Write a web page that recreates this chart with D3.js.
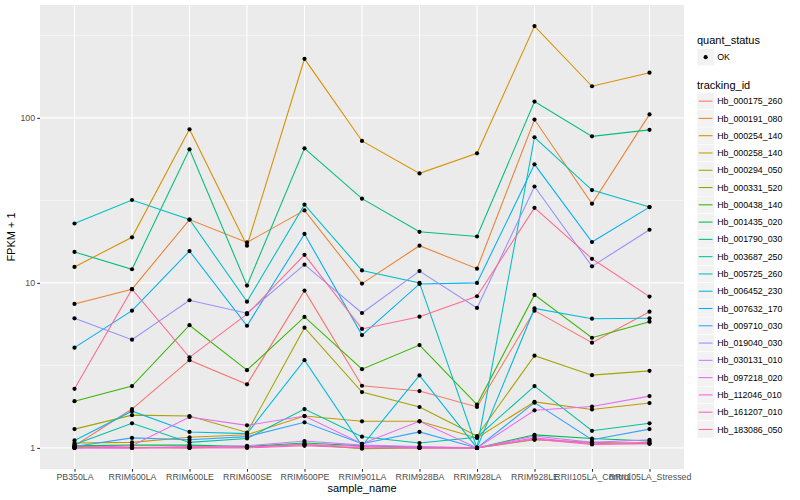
<!DOCTYPE html>
<html>
<head>
<meta charset="utf-8">
<script src="https://cdn.jsdelivr.net/npm/d3@7/dist/d3.min.js"></script>
<style>
  body { margin: 0; background: #fff; }
  svg { display: block; font-family: "Liberation Sans", Arial, Helvetica, sans-serif; }
</style>
</head>
<body>
<svg id="chart" width="800" height="500"></svg>
<script>
const categories = ["PB350LA","RRIM600LA","RRIM600LE","RRIM600SE","RRIM600PE","RRIM901LA","RRIM928BA","RRIM928LA","RRIM928LE","RRII105LA_Control","RRII105LA_Stressed"];

const trackingIds = ["Hb_000175_260","Hb_000191_080","Hb_000254_140","Hb_000258_140","Hb_000294_050","Hb_000331_520","Hb_000438_140","Hb_001435_020","Hb_001790_030","Hb_003687_250","Hb_005725_260","Hb_006452_230","Hb_007632_170","Hb_009710_030","Hb_019040_030","Hb_030131_010","Hb_097218_020","Hb_112046_010","Hb_161207_010","Hb_183086_050"];

// FPKM + 1 values per tracking_id, in category order
const v_000175_260 = [1.03, 1.72, 3.40, 2.43, 8.98, 2.38, 2.21, 1.77, 6.79, 4.34, 6.69];
const v_000191_080 = [7.46, 9.16, 24.2, 17.6, 27.5, 9.9, 16.8, 12.2, 97.7, 30.2, 105];
const v_000254_140 = [12.5, 18.9, 85.3, 16.8, 228, 72.5, 46.1, 61, 360, 155.5, 188];
const v_000258_140 = [1.07, 1.08, 1.16, 1.2, 1.56, 1.45, 1.45, 1.15, 1.9, 1.71, 1.87];
const v_000294_050 = [1.30, 1.58, 1.56, 1.24, 5.35, 2.18, 1.77, 1.18, 3.62, 2.76, 2.93];
const v_000331_520 = [1.02, 1.01, 1.0, 1.02, 1.05, 0.99, 1.0, 1.0, 1.12, 1.08, 1.06];
const v_000438_140 = [1.92, 2.37, 5.54, 2.96, 6.22, 3.0, 4.2, 1.83, 8.46, 4.65, 5.82];
const v_001435_020 = [1.03, 1.04, 1.04, 1.02, 1.07, 1.03, 1.01, 1.0, 1.2, 1.14, 1.1];
const v_001790_030 = [15.4, 12.1, 64.5, 9.63, 65.4, 32.4, 20.4, 19.1, 125.6, 77.3, 84.6];
const v_003687_250 = [1.05, 1.41, 1.08, 1.14, 1.72, 1.17, 1.07, 1.16, 2.37, 1.27, 1.41];
const v_005725_260 = [22.9, 31.8, 24.2, 7.7, 29.8, 11.9, 10.0, 1.0, 76.3, 36.5, 28.8];
const v_006452_230 = [1.11, 1.67, 1.25, 1.22, 3.4, 1.03, 2.75, 1.0, 7.0, 6.07, 6.1];
const v_007632_170 = [4.05, 6.79, 15.6, 5.5, 19.8, 4.83, 9.86, 10.0, 52.3, 17.7, 28.8];
const v_009710_030 = [1.02, 1.15, 1.12, 1.17, 1.43, 1.06, 1.25, 1.0, 1.88, 1.12, 1.3];
const v_019040_030 = [6.1, 4.53, 7.85, 6.55, 12.9, 6.57, 11.8, 7.05, 38.4, 12.6, 21];
const v_030131_010 = [1.0, 1.0, 1.01, 1.03, 1.1, 1.04, 1.02, 1.0, 1.18, 1.08, 1.12];
const v_097218_020 = [1.0, 1.03, 1.54, 1.37, 1.56, 1.06, 1.45, 1.0, 1.69, 1.78, 2.06];
const v_112046_010 = [1.0, 1.0, 1.02, 1.01, 1.05, 1.02, 1.0, 1.0, 1.15, 1.06, 1.08];
const v_161207_010 = [1.01, 1.0, 1.0, 1.0, 1.03, 1.0, 1.0, 1.0, 1.13, 1.05, 1.06];
const v_183086_050 = [2.28, 9.16, 3.54, 6.46, 14.8, 5.26, 6.24, 8.3, 28.5, 14.0, 8.26];

const seriesValues = [v_000175_260, v_000191_080, v_000254_140, v_000258_140, v_000294_050, v_000331_520, v_000438_140, v_001435_020, v_001790_030, v_003687_250, v_005725_260, v_006452_230, v_007632_170, v_009710_030, v_019040_030, v_030131_010, v_097218_020, v_112046_010, v_161207_010, v_183086_050];

const yTicks = [1, 10, 100];
const yMinor = [Math.pow(10, 0.5), Math.pow(10, 1.5), Math.pow(10, 2.5)];

const palette = ["#F8766D","#EA8331","#D89000","#C09B00","#A3A500","#7CAE00","#39B600","#00BB4E","#00BF7D","#00C1A3","#00BFC4","#00BAE0","#00B0F6","#35A2FF","#9590FF","#C77CFF","#E76BF3","#FA62DB","#FF62BC","#FF6C91"];

const svg = d3.select("#chart");
const P = { left: 40, right: 684, top: 5, bottom: 469 };

const x = d3.scalePoint().domain(categories).range([P.left, P.right]).padding(0.6);
// log scale with ggplot-like 5% expansion in log space
const allVals = seriesValues.flat();
const lmin = Math.log10(1.0), lmax = Math.log10(d3.max(allVals));
const ex = (lmax - lmin) * 0.05;
const y = d3.scaleLog().domain([Math.pow(10, lmin - ex), Math.pow(10, lmax + ex)]).range([P.bottom, P.top]);
const color = d3.scaleOrdinal().domain(trackingIds).range(palette);

// panel
svg.append("rect").attr("x", P.left).attr("y", P.top).attr("width", P.right - P.left).attr("height", P.bottom - P.top).attr("fill", "#EBEBEB");

const grid = svg.append("g");
grid.selectAll(".ymin").data(yMinor).join("line")
  .attr("x1", P.left).attr("x2", P.right).attr("y1", d => y(d)).attr("y2", d => y(d))
  .attr("stroke", "#fff").attr("stroke-width", 0.53);
grid.selectAll(".ymaj").data(yTicks).join("line")
  .attr("x1", P.left).attr("x2", P.right).attr("y1", d => y(d)).attr("y2", d => y(d))
  .attr("stroke", "#fff").attr("stroke-width", 1.07);
grid.selectAll(".xmaj").data(categories).join("line")
  .attr("x1", d => x(d)).attr("x2", d => x(d)).attr("y1", P.top).attr("y2", P.bottom)
  .attr("stroke", "#fff").attr("stroke-width", 1.07);

// lines
const line = d3.line().x((d, i) => x(categories[i])).y(d => y(d));
svg.append("g").selectAll("path").data(seriesValues).join("path")
  .attr("d", d => line(d))
  .attr("fill", "none")
  .attr("stroke", (d, i) => color(trackingIds[i]))
  .attr("stroke-width", 1.07);

// points
const pts = svg.append("g");
seriesValues.forEach((vals) => {
  pts.selectAll(null).data(vals).join("circle")
    .attr("cx", (d, i) => x(categories[i]))
    .attr("cy", d => y(d))
    .attr("r", 2.1)
    .attr("fill", "#000");
});

// axes
const yAxis = d3.axisLeft(y).tickValues(yTicks).tickFormat(d3.format("d")).tickSize(2.75).tickPadding(2.2);
const gy = svg.append("g").attr("transform", `translate(${P.left},0)`).call(yAxis);
gy.select(".domain").remove();
gy.selectAll(".tick line").attr("stroke", "#333333").attr("stroke-width", 1.07);
gy.selectAll(".tick text").attr("fill", "#4D4D4D").style("font-size", "8.8px").style("font-family", "'Liberation Sans', Arial, sans-serif");

const xAxis = d3.axisBottom(x).tickSize(2.75).tickPadding(2.2);
const gx = svg.append("g").attr("transform", `translate(0,${P.bottom})`).call(xAxis);
gx.select(".domain").remove();
gx.selectAll(".tick line").attr("stroke", "#333333").attr("stroke-width", 1.07);
gx.selectAll(".tick text").attr("fill", "#4D4D4D").style("font-size", "8.8px").style("font-family", "'Liberation Sans', Arial, sans-serif");

// axis titles
svg.append("text").attr("x", (P.left + P.right) / 2).attr("y", 492).attr("text-anchor", "middle")
  .style("font-size", "11px").attr("fill", "#000").text("sample_name");
svg.append("text").attr("transform", `translate(15,${(P.top + P.bottom) / 2}) rotate(-90)`).attr("text-anchor", "middle")
  .style("font-size", "11px").attr("fill", "#000").text("FPKM + 1");

// legend
const L = svg.append("g");
const lx = 697, ks = 17.28;
L.append("text").attr("x", lx).attr("y", 44).style("font-size", "11px").attr("fill", "#000").text("quant_status");
L.append("rect").attr("x", lx).attr("y", 48.5).attr("width", ks).attr("height", ks).attr("fill", "#F2F2F2").attr("stroke", "#fff").attr("stroke-width", 0.5);
L.append("circle").attr("cx", lx + ks / 2).attr("cy", 48.5 + ks / 2).attr("r", 2.1).attr("fill", "#000");
L.append("text").attr("x", lx + ks + 3).attr("y", 48.5 + ks / 2 + 3.1).style("font-size", "8.8px").attr("fill", "#000").text("OK");

L.append("text").attr("x", lx).attr("y", 89).style("font-size", "11px").attr("fill", "#000").text("tracking_id");
const k0 = 92.5;
const keys = L.selectAll(".key").data(trackingIds).join("g").attr("transform", (d, i) => `translate(${lx},${k0 + i * ks})`);
keys.append("rect").attr("width", ks).attr("height", ks).attr("fill", "#F2F2F2").attr("stroke", "#fff").attr("stroke-width", 0.5);
keys.append("line").attr("x1", ks * 0.1).attr("x2", ks * 0.9).attr("y1", ks / 2).attr("y2", ks / 2)
  .attr("stroke", d => color(d)).attr("stroke-width", 1.07);
keys.append("text").attr("x", ks + 3).attr("y", ks / 2 + 3.1).style("font-size", "8.8px").attr("fill", "#000").text(d => d);
</script>
</body>
</html>
